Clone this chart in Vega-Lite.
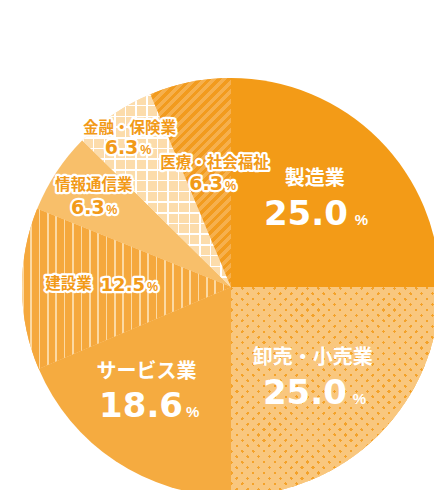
{
"$schema":"https://vega.github.io/schema/vega-lite/v6.json",
"width":406,"height":406,
"padding":{"left":28,"top":84,"right":0,"bottom":0},
"autosize":{"type":"none"},
"background":"#ffffff",
"config":{"view":{"stroke":null}},
"data":{"values":[
{"cat":"製造業","value":25.0,"idx":1},
{"cat":"卸売・小売業","value":25.0,"idx":2},
{"cat":"サービス業","value":18.6,"idx":3},
{"cat":"建設業","value":12.5,"idx":4},
{"cat":"情報通信業","value":6.3,"idx":5},
{"cat":"金融・保険業","value":6.3,"idx":6},
{"cat":"医療・社会福祉","value":6.3,"idx":7}
]},
"encoding":{
"theta":{"field":"value","type":"quantitative","stack":true},
"order":{"field":"idx","type":"quantitative"},
"detail":{"field":"cat","type":"nominal"}
},
"layer":[
{"mark":{"type":"arc","radius":209},
"encoding":{"color":{"field":"cat","type":"nominal","legend":null,
"scale":{"domain":["製造業","卸売・小売業","サービス業","建設業","情報通信業","金融・保険業","医療・社会福祉"],
"range":["#f39b17","#f9c77e","#f5ab40","#f5a83d","#f8bf6a","#fcdcab","#f6b04d"]}}}},
{"mark":{"type":"arc","radius":209,"fill":{"gradient":"linear","x1":0,"y1":0,"x2":1,"y2":1,"stops":[
{"offset":0,"color":"#f4a229"},{"offset":0.008,"color":"#f4a229"},{"offset":0.008,"color":"#f9c77e"},{"offset":0.026,"color":"#f9c77e"},
{"offset":0.026,"color":"#f4a229"},{"offset":0.034,"color":"#f4a229"},{"offset":0.034,"color":"#f9c77e"},{"offset":0.052,"color":"#f9c77e"},
{"offset":0.052,"color":"#f4a229"},{"offset":0.06,"color":"#f4a229"},{"offset":0.06,"color":"#f9c77e"},{"offset":0.078,"color":"#f9c77e"},
{"offset":0.078,"color":"#f4a229"},{"offset":0.086,"color":"#f4a229"},{"offset":0.086,"color":"#f9c77e"},{"offset":0.104,"color":"#f9c77e"},
{"offset":0.104,"color":"#f4a229"},{"offset":0.112,"color":"#f4a229"},{"offset":0.112,"color":"#f9c77e"},{"offset":0.13,"color":"#f9c77e"},
{"offset":0.13,"color":"#f4a229"},{"offset":0.138,"color":"#f4a229"},{"offset":0.138,"color":"#f9c77e"},{"offset":0.156,"color":"#f9c77e"},
{"offset":0.156,"color":"#f4a229"},{"offset":0.164,"color":"#f4a229"},{"offset":0.164,"color":"#f9c77e"},{"offset":0.182,"color":"#f9c77e"},
{"offset":0.182,"color":"#f4a229"},{"offset":0.19,"color":"#f4a229"},{"offset":0.19,"color":"#f9c77e"},{"offset":0.208,"color":"#f9c77e"},
{"offset":0.208,"color":"#f4a229"},{"offset":0.216,"color":"#f4a229"},{"offset":0.216,"color":"#f9c77e"},{"offset":0.234,"color":"#f9c77e"},
{"offset":0.234,"color":"#f4a229"},{"offset":0.242,"color":"#f4a229"},{"offset":0.242,"color":"#f9c77e"},{"offset":0.26,"color":"#f9c77e"},
{"offset":0.26,"color":"#f4a229"},{"offset":0.268,"color":"#f4a229"},{"offset":0.268,"color":"#f9c77e"},{"offset":0.286,"color":"#f9c77e"},
{"offset":0.286,"color":"#f4a229"},{"offset":0.294,"color":"#f4a229"},{"offset":0.294,"color":"#f9c77e"},{"offset":0.312,"color":"#f9c77e"},
{"offset":0.312,"color":"#f4a229"},{"offset":0.32,"color":"#f4a229"},{"offset":0.32,"color":"#f9c77e"},{"offset":0.338,"color":"#f9c77e"},
{"offset":0.338,"color":"#f4a229"},{"offset":0.346,"color":"#f4a229"},{"offset":0.346,"color":"#f9c77e"},{"offset":0.364,"color":"#f9c77e"},
{"offset":0.364,"color":"#f4a229"},{"offset":0.372,"color":"#f4a229"},{"offset":0.372,"color":"#f9c77e"},{"offset":0.39,"color":"#f9c77e"},
{"offset":0.39,"color":"#f4a229"},{"offset":0.398,"color":"#f4a229"},{"offset":0.398,"color":"#f9c77e"},{"offset":0.416,"color":"#f9c77e"},
{"offset":0.416,"color":"#f4a229"},{"offset":0.424,"color":"#f4a229"},{"offset":0.424,"color":"#f9c77e"},{"offset":0.442,"color":"#f9c77e"},
{"offset":0.442,"color":"#f4a229"},{"offset":0.45,"color":"#f4a229"},{"offset":0.45,"color":"#f9c77e"},{"offset":0.468,"color":"#f9c77e"},
{"offset":0.468,"color":"#f4a229"},{"offset":0.476,"color":"#f4a229"},{"offset":0.476,"color":"#f9c77e"},{"offset":0.494,"color":"#f9c77e"},
{"offset":0.494,"color":"#f4a229"},{"offset":0.502,"color":"#f4a229"},{"offset":0.502,"color":"#f9c77e"},{"offset":0.52,"color":"#f9c77e"},
{"offset":0.52,"color":"#f4a229"},{"offset":0.528,"color":"#f4a229"},{"offset":0.528,"color":"#f9c77e"},{"offset":0.546,"color":"#f9c77e"},
{"offset":0.546,"color":"#f4a229"},{"offset":0.554,"color":"#f4a229"},{"offset":0.554,"color":"#f9c77e"},{"offset":0.572,"color":"#f9c77e"},
{"offset":0.572,"color":"#f4a229"},{"offset":0.58,"color":"#f4a229"},{"offset":0.58,"color":"#f9c77e"},{"offset":0.598,"color":"#f9c77e"},
{"offset":0.598,"color":"#f4a229"},{"offset":0.606,"color":"#f4a229"},{"offset":0.606,"color":"#f9c77e"},{"offset":0.624,"color":"#f9c77e"},
{"offset":0.624,"color":"#f4a229"},{"offset":0.632,"color":"#f4a229"},{"offset":0.632,"color":"#f9c77e"},{"offset":0.65,"color":"#f9c77e"},
{"offset":0.65,"color":"#f4a229"},{"offset":0.658,"color":"#f4a229"},{"offset":0.658,"color":"#f9c77e"},{"offset":0.676,"color":"#f9c77e"},
{"offset":0.676,"color":"#f4a229"},{"offset":0.684,"color":"#f4a229"},{"offset":0.684,"color":"#f9c77e"},{"offset":0.702,"color":"#f9c77e"},
{"offset":0.702,"color":"#f4a229"},{"offset":0.71,"color":"#f4a229"},{"offset":0.71,"color":"#f9c77e"},{"offset":0.728,"color":"#f9c77e"},
{"offset":0.728,"color":"#f4a229"},{"offset":0.736,"color":"#f4a229"},{"offset":0.736,"color":"#f9c77e"},{"offset":0.754,"color":"#f9c77e"},
{"offset":0.754,"color":"#f4a229"},{"offset":0.762,"color":"#f4a229"},{"offset":0.762,"color":"#f9c77e"},{"offset":0.78,"color":"#f9c77e"},
{"offset":0.78,"color":"#f4a229"},{"offset":0.788,"color":"#f4a229"},{"offset":0.788,"color":"#f9c77e"},{"offset":0.806,"color":"#f9c77e"},
{"offset":0.806,"color":"#f4a229"},{"offset":0.814,"color":"#f4a229"},{"offset":0.814,"color":"#f9c77e"},{"offset":0.832,"color":"#f9c77e"},
{"offset":0.832,"color":"#f4a229"},{"offset":0.84,"color":"#f4a229"},{"offset":0.84,"color":"#f9c77e"},{"offset":0.858,"color":"#f9c77e"},
{"offset":0.858,"color":"#f4a229"},{"offset":0.866,"color":"#f4a229"},{"offset":0.866,"color":"#f9c77e"},{"offset":0.884,"color":"#f9c77e"},
{"offset":0.884,"color":"#f4a229"},{"offset":0.892,"color":"#f4a229"},{"offset":0.892,"color":"#f9c77e"},{"offset":0.91,"color":"#f9c77e"},
{"offset":0.91,"color":"#f4a229"},{"offset":0.918,"color":"#f4a229"},{"offset":0.918,"color":"#f9c77e"},{"offset":0.936,"color":"#f9c77e"},
{"offset":0.936,"color":"#f4a229"},{"offset":0.944,"color":"#f4a229"},{"offset":0.944,"color":"#f9c77e"},{"offset":0.962,"color":"#f9c77e"},
{"offset":0.962,"color":"#f4a229"},{"offset":0.97,"color":"#f4a229"},{"offset":0.97,"color":"#f9c77e"},{"offset":0.988,"color":"#f9c77e"},
{"offset":0.988,"color":"#f4a229"},{"offset":0.996,"color":"#f4a229"},{"offset":0.996,"color":"#f9c77e"},{"offset":1,"color":"#f9c77e"}
]}},
"encoding":{"opacity":{"condition":{"test":"datum.cat==='卸売・小売業'","value":1},"value":0}}},
{"mark":{"type":"arc","radius":209,"fill":{"gradient":"linear","x1":0,"y1":1,"x2":1,"y2":0,"stops":[
{"offset":0,"color":"rgba(249,199,126,0)"},{"offset":0.008,"color":"rgba(249,199,126,0)"},{"offset":0.008,"color":"#f9c77e"},{"offset":0.026,"color":"#f9c77e"},
{"offset":0.026,"color":"rgba(249,199,126,0)"},{"offset":0.034,"color":"rgba(249,199,126,0)"},{"offset":0.034,"color":"#f9c77e"},{"offset":0.052,"color":"#f9c77e"},
{"offset":0.052,"color":"rgba(249,199,126,0)"},{"offset":0.06,"color":"rgba(249,199,126,0)"},{"offset":0.06,"color":"#f9c77e"},{"offset":0.078,"color":"#f9c77e"},
{"offset":0.078,"color":"rgba(249,199,126,0)"},{"offset":0.086,"color":"rgba(249,199,126,0)"},{"offset":0.086,"color":"#f9c77e"},{"offset":0.104,"color":"#f9c77e"},
{"offset":0.104,"color":"rgba(249,199,126,0)"},{"offset":0.112,"color":"rgba(249,199,126,0)"},{"offset":0.112,"color":"#f9c77e"},{"offset":0.13,"color":"#f9c77e"},
{"offset":0.13,"color":"rgba(249,199,126,0)"},{"offset":0.138,"color":"rgba(249,199,126,0)"},{"offset":0.138,"color":"#f9c77e"},{"offset":0.156,"color":"#f9c77e"},
{"offset":0.156,"color":"rgba(249,199,126,0)"},{"offset":0.164,"color":"rgba(249,199,126,0)"},{"offset":0.164,"color":"#f9c77e"},{"offset":0.182,"color":"#f9c77e"},
{"offset":0.182,"color":"rgba(249,199,126,0)"},{"offset":0.19,"color":"rgba(249,199,126,0)"},{"offset":0.19,"color":"#f9c77e"},{"offset":0.208,"color":"#f9c77e"},
{"offset":0.208,"color":"rgba(249,199,126,0)"},{"offset":0.216,"color":"rgba(249,199,126,0)"},{"offset":0.216,"color":"#f9c77e"},{"offset":0.234,"color":"#f9c77e"},
{"offset":0.234,"color":"rgba(249,199,126,0)"},{"offset":0.242,"color":"rgba(249,199,126,0)"},{"offset":0.242,"color":"#f9c77e"},{"offset":0.26,"color":"#f9c77e"},
{"offset":0.26,"color":"rgba(249,199,126,0)"},{"offset":0.268,"color":"rgba(249,199,126,0)"},{"offset":0.268,"color":"#f9c77e"},{"offset":0.286,"color":"#f9c77e"},
{"offset":0.286,"color":"rgba(249,199,126,0)"},{"offset":0.294,"color":"rgba(249,199,126,0)"},{"offset":0.294,"color":"#f9c77e"},{"offset":0.312,"color":"#f9c77e"},
{"offset":0.312,"color":"rgba(249,199,126,0)"},{"offset":0.32,"color":"rgba(249,199,126,0)"},{"offset":0.32,"color":"#f9c77e"},{"offset":0.338,"color":"#f9c77e"},
{"offset":0.338,"color":"rgba(249,199,126,0)"},{"offset":0.346,"color":"rgba(249,199,126,0)"},{"offset":0.346,"color":"#f9c77e"},{"offset":0.364,"color":"#f9c77e"},
{"offset":0.364,"color":"rgba(249,199,126,0)"},{"offset":0.372,"color":"rgba(249,199,126,0)"},{"offset":0.372,"color":"#f9c77e"},{"offset":0.39,"color":"#f9c77e"},
{"offset":0.39,"color":"rgba(249,199,126,0)"},{"offset":0.398,"color":"rgba(249,199,126,0)"},{"offset":0.398,"color":"#f9c77e"},{"offset":0.416,"color":"#f9c77e"},
{"offset":0.416,"color":"rgba(249,199,126,0)"},{"offset":0.424,"color":"rgba(249,199,126,0)"},{"offset":0.424,"color":"#f9c77e"},{"offset":0.442,"color":"#f9c77e"},
{"offset":0.442,"color":"rgba(249,199,126,0)"},{"offset":0.45,"color":"rgba(249,199,126,0)"},{"offset":0.45,"color":"#f9c77e"},{"offset":0.468,"color":"#f9c77e"},
{"offset":0.468,"color":"rgba(249,199,126,0)"},{"offset":0.476,"color":"rgba(249,199,126,0)"},{"offset":0.476,"color":"#f9c77e"},{"offset":0.494,"color":"#f9c77e"},
{"offset":0.494,"color":"rgba(249,199,126,0)"},{"offset":0.502,"color":"rgba(249,199,126,0)"},{"offset":0.502,"color":"#f9c77e"},{"offset":0.52,"color":"#f9c77e"},
{"offset":0.52,"color":"rgba(249,199,126,0)"},{"offset":0.528,"color":"rgba(249,199,126,0)"},{"offset":0.528,"color":"#f9c77e"},{"offset":0.546,"color":"#f9c77e"},
{"offset":0.546,"color":"rgba(249,199,126,0)"},{"offset":0.554,"color":"rgba(249,199,126,0)"},{"offset":0.554,"color":"#f9c77e"},{"offset":0.572,"color":"#f9c77e"},
{"offset":0.572,"color":"rgba(249,199,126,0)"},{"offset":0.58,"color":"rgba(249,199,126,0)"},{"offset":0.58,"color":"#f9c77e"},{"offset":0.598,"color":"#f9c77e"},
{"offset":0.598,"color":"rgba(249,199,126,0)"},{"offset":0.606,"color":"rgba(249,199,126,0)"},{"offset":0.606,"color":"#f9c77e"},{"offset":0.624,"color":"#f9c77e"},
{"offset":0.624,"color":"rgba(249,199,126,0)"},{"offset":0.632,"color":"rgba(249,199,126,0)"},{"offset":0.632,"color":"#f9c77e"},{"offset":0.65,"color":"#f9c77e"},
{"offset":0.65,"color":"rgba(249,199,126,0)"},{"offset":0.658,"color":"rgba(249,199,126,0)"},{"offset":0.658,"color":"#f9c77e"},{"offset":0.676,"color":"#f9c77e"},
{"offset":0.676,"color":"rgba(249,199,126,0)"},{"offset":0.684,"color":"rgba(249,199,126,0)"},{"offset":0.684,"color":"#f9c77e"},{"offset":0.702,"color":"#f9c77e"},
{"offset":0.702,"color":"rgba(249,199,126,0)"},{"offset":0.71,"color":"rgba(249,199,126,0)"},{"offset":0.71,"color":"#f9c77e"},{"offset":0.728,"color":"#f9c77e"},
{"offset":0.728,"color":"rgba(249,199,126,0)"},{"offset":0.736,"color":"rgba(249,199,126,0)"},{"offset":0.736,"color":"#f9c77e"},{"offset":0.754,"color":"#f9c77e"},
{"offset":0.754,"color":"rgba(249,199,126,0)"},{"offset":0.762,"color":"rgba(249,199,126,0)"},{"offset":0.762,"color":"#f9c77e"},{"offset":0.78,"color":"#f9c77e"},
{"offset":0.78,"color":"rgba(249,199,126,0)"},{"offset":0.788,"color":"rgba(249,199,126,0)"},{"offset":0.788,"color":"#f9c77e"},{"offset":0.806,"color":"#f9c77e"},
{"offset":0.806,"color":"rgba(249,199,126,0)"},{"offset":0.814,"color":"rgba(249,199,126,0)"},{"offset":0.814,"color":"#f9c77e"},{"offset":0.832,"color":"#f9c77e"},
{"offset":0.832,"color":"rgba(249,199,126,0)"},{"offset":0.84,"color":"rgba(249,199,126,0)"},{"offset":0.84,"color":"#f9c77e"},{"offset":0.858,"color":"#f9c77e"},
{"offset":0.858,"color":"rgba(249,199,126,0)"},{"offset":0.866,"color":"rgba(249,199,126,0)"},{"offset":0.866,"color":"#f9c77e"},{"offset":0.884,"color":"#f9c77e"},
{"offset":0.884,"color":"rgba(249,199,126,0)"},{"offset":0.892,"color":"rgba(249,199,126,0)"},{"offset":0.892,"color":"#f9c77e"},{"offset":0.91,"color":"#f9c77e"},
{"offset":0.91,"color":"rgba(249,199,126,0)"},{"offset":0.918,"color":"rgba(249,199,126,0)"},{"offset":0.918,"color":"#f9c77e"},{"offset":0.936,"color":"#f9c77e"},
{"offset":0.936,"color":"rgba(249,199,126,0)"},{"offset":0.944,"color":"rgba(249,199,126,0)"},{"offset":0.944,"color":"#f9c77e"},{"offset":0.962,"color":"#f9c77e"},
{"offset":0.962,"color":"rgba(249,199,126,0)"},{"offset":0.97,"color":"rgba(249,199,126,0)"},{"offset":0.97,"color":"#f9c77e"},{"offset":0.988,"color":"#f9c77e"},
{"offset":0.988,"color":"rgba(249,199,126,0)"},{"offset":0.996,"color":"rgba(249,199,126,0)"},{"offset":0.996,"color":"#f9c77e"},{"offset":1,"color":"#f9c77e"}
]}},
"encoding":{"opacity":{"condition":{"test":"datum.cat==='卸売・小売業'","value":1},"value":0}}},
{"mark":{"type":"arc","radius":209,"fill":{"gradient":"linear","x1":0,"y1":0,"x2":1,"y2":0,"stops":[
{"offset":0,"color":"#fcd9a2"},{"offset":0.008,"color":"#fcd9a2"},{"offset":0.008,"color":"#f5a83d"},{"offset":0.04,"color":"#f5a83d"},
{"offset":0.04,"color":"#fcd9a2"},{"offset":0.048,"color":"#fcd9a2"},{"offset":0.048,"color":"#f5a83d"},{"offset":0.08,"color":"#f5a83d"},
{"offset":0.08,"color":"#fcd9a2"},{"offset":0.088,"color":"#fcd9a2"},{"offset":0.088,"color":"#f5a83d"},{"offset":0.12,"color":"#f5a83d"},
{"offset":0.12,"color":"#fcd9a2"},{"offset":0.128,"color":"#fcd9a2"},{"offset":0.128,"color":"#f5a83d"},{"offset":0.16,"color":"#f5a83d"},
{"offset":0.16,"color":"#fcd9a2"},{"offset":0.168,"color":"#fcd9a2"},{"offset":0.168,"color":"#f5a83d"},{"offset":0.2,"color":"#f5a83d"},
{"offset":0.2,"color":"#fcd9a2"},{"offset":0.208,"color":"#fcd9a2"},{"offset":0.208,"color":"#f5a83d"},{"offset":0.24,"color":"#f5a83d"},
{"offset":0.24,"color":"#fcd9a2"},{"offset":0.248,"color":"#fcd9a2"},{"offset":0.248,"color":"#f5a83d"},{"offset":0.28,"color":"#f5a83d"},
{"offset":0.28,"color":"#fcd9a2"},{"offset":0.288,"color":"#fcd9a2"},{"offset":0.288,"color":"#f5a83d"},{"offset":0.32,"color":"#f5a83d"},
{"offset":0.32,"color":"#fcd9a2"},{"offset":0.328,"color":"#fcd9a2"},{"offset":0.328,"color":"#f5a83d"},{"offset":0.36,"color":"#f5a83d"},
{"offset":0.36,"color":"#fcd9a2"},{"offset":0.368,"color":"#fcd9a2"},{"offset":0.368,"color":"#f5a83d"},{"offset":0.4,"color":"#f5a83d"},
{"offset":0.4,"color":"#fcd9a2"},{"offset":0.408,"color":"#fcd9a2"},{"offset":0.408,"color":"#f5a83d"},{"offset":0.44,"color":"#f5a83d"},
{"offset":0.44,"color":"#fcd9a2"},{"offset":0.448,"color":"#fcd9a2"},{"offset":0.448,"color":"#f5a83d"},{"offset":0.48,"color":"#f5a83d"},
{"offset":0.48,"color":"#fcd9a2"},{"offset":0.488,"color":"#fcd9a2"},{"offset":0.488,"color":"#f5a83d"},{"offset":0.52,"color":"#f5a83d"},
{"offset":0.52,"color":"#fcd9a2"},{"offset":0.528,"color":"#fcd9a2"},{"offset":0.528,"color":"#f5a83d"},{"offset":0.56,"color":"#f5a83d"},
{"offset":0.56,"color":"#fcd9a2"},{"offset":0.568,"color":"#fcd9a2"},{"offset":0.568,"color":"#f5a83d"},{"offset":0.6,"color":"#f5a83d"},
{"offset":0.6,"color":"#fcd9a2"},{"offset":0.608,"color":"#fcd9a2"},{"offset":0.608,"color":"#f5a83d"},{"offset":0.64,"color":"#f5a83d"},
{"offset":0.64,"color":"#fcd9a2"},{"offset":0.648,"color":"#fcd9a2"},{"offset":0.648,"color":"#f5a83d"},{"offset":0.68,"color":"#f5a83d"},
{"offset":0.68,"color":"#fcd9a2"},{"offset":0.688,"color":"#fcd9a2"},{"offset":0.688,"color":"#f5a83d"},{"offset":0.72,"color":"#f5a83d"},
{"offset":0.72,"color":"#fcd9a2"},{"offset":0.728,"color":"#fcd9a2"},{"offset":0.728,"color":"#f5a83d"},{"offset":0.76,"color":"#f5a83d"},
{"offset":0.76,"color":"#fcd9a2"},{"offset":0.768,"color":"#fcd9a2"},{"offset":0.768,"color":"#f5a83d"},{"offset":0.8,"color":"#f5a83d"},
{"offset":0.8,"color":"#fcd9a2"},{"offset":0.808,"color":"#fcd9a2"},{"offset":0.808,"color":"#f5a83d"},{"offset":0.84,"color":"#f5a83d"},
{"offset":0.84,"color":"#fcd9a2"},{"offset":0.848,"color":"#fcd9a2"},{"offset":0.848,"color":"#f5a83d"},{"offset":0.88,"color":"#f5a83d"},
{"offset":0.88,"color":"#fcd9a2"},{"offset":0.888,"color":"#fcd9a2"},{"offset":0.888,"color":"#f5a83d"},{"offset":0.92,"color":"#f5a83d"},
{"offset":0.92,"color":"#fcd9a2"},{"offset":0.928,"color":"#fcd9a2"},{"offset":0.928,"color":"#f5a83d"},{"offset":0.96,"color":"#f5a83d"},
{"offset":0.96,"color":"#fcd9a2"},{"offset":0.968,"color":"#fcd9a2"},{"offset":0.968,"color":"#f5a83d"},{"offset":1,"color":"#f5a83d"}
]}},
"encoding":{"opacity":{"condition":{"test":"datum.cat==='建設業'","value":1},"value":0}}},
{"mark":{"type":"arc","radius":209,"fill":{"gradient":"linear","x1":0,"y1":0,"x2":1,"y2":0,"stops":[
{"offset":0,"color":"#ffffff"},{"offset":0.01,"color":"#ffffff"},{"offset":0.01,"color":"#fcdcab"},{"offset":0.0714,"color":"#fcdcab"},
{"offset":0.0714,"color":"#ffffff"},{"offset":0.0814,"color":"#ffffff"},{"offset":0.0814,"color":"#fcdcab"},{"offset":0.1429,"color":"#fcdcab"},
{"offset":0.1429,"color":"#ffffff"},{"offset":0.1529,"color":"#ffffff"},{"offset":0.1529,"color":"#fcdcab"},{"offset":0.2143,"color":"#fcdcab"},
{"offset":0.2143,"color":"#ffffff"},{"offset":0.2243,"color":"#ffffff"},{"offset":0.2243,"color":"#fcdcab"},{"offset":0.2857,"color":"#fcdcab"},
{"offset":0.2857,"color":"#ffffff"},{"offset":0.2957,"color":"#ffffff"},{"offset":0.2957,"color":"#fcdcab"},{"offset":0.3571,"color":"#fcdcab"},
{"offset":0.3571,"color":"#ffffff"},{"offset":0.3671,"color":"#ffffff"},{"offset":0.3671,"color":"#fcdcab"},{"offset":0.4286,"color":"#fcdcab"},
{"offset":0.4286,"color":"#ffffff"},{"offset":0.4386,"color":"#ffffff"},{"offset":0.4386,"color":"#fcdcab"},{"offset":0.5,"color":"#fcdcab"},
{"offset":0.5,"color":"#ffffff"},{"offset":0.51,"color":"#ffffff"},{"offset":0.51,"color":"#fcdcab"},{"offset":0.5714,"color":"#fcdcab"},
{"offset":0.5714,"color":"#ffffff"},{"offset":0.5814,"color":"#ffffff"},{"offset":0.5814,"color":"#fcdcab"},{"offset":0.6429,"color":"#fcdcab"},
{"offset":0.6429,"color":"#ffffff"},{"offset":0.6529,"color":"#ffffff"},{"offset":0.6529,"color":"#fcdcab"},{"offset":0.7143,"color":"#fcdcab"},
{"offset":0.7143,"color":"#ffffff"},{"offset":0.7243,"color":"#ffffff"},{"offset":0.7243,"color":"#fcdcab"},{"offset":0.7857,"color":"#fcdcab"},
{"offset":0.7857,"color":"#ffffff"},{"offset":0.7957,"color":"#ffffff"},{"offset":0.7957,"color":"#fcdcab"},{"offset":0.8571,"color":"#fcdcab"},
{"offset":0.8571,"color":"#ffffff"},{"offset":0.8671,"color":"#ffffff"},{"offset":0.8671,"color":"#fcdcab"},{"offset":0.9286,"color":"#fcdcab"},
{"offset":0.9286,"color":"#ffffff"},{"offset":0.9386,"color":"#ffffff"},{"offset":0.9386,"color":"#fcdcab"},{"offset":1,"color":"#fcdcab"}
]}},
"encoding":{"opacity":{"condition":{"test":"datum.cat==='金融・保険業'","value":1},"value":0}}},
{"mark":{"type":"arc","radius":209,"fill":{"gradient":"linear","x1":0,"y1":0,"x2":0,"y2":1,"stops":[
{"offset":0,"color":"#ffffff"},{"offset":0.008,"color":"#ffffff"},{"offset":0.008,"color":"rgba(255,255,255,0)"},{"offset":0.0556,"color":"rgba(255,255,255,0)"},
{"offset":0.0556,"color":"#ffffff"},{"offset":0.0636,"color":"#ffffff"},{"offset":0.0636,"color":"rgba(255,255,255,0)"},{"offset":0.1111,"color":"rgba(255,255,255,0)"},
{"offset":0.1111,"color":"#ffffff"},{"offset":0.1191,"color":"#ffffff"},{"offset":0.1191,"color":"rgba(255,255,255,0)"},{"offset":0.1667,"color":"rgba(255,255,255,0)"},
{"offset":0.1667,"color":"#ffffff"},{"offset":0.1747,"color":"#ffffff"},{"offset":0.1747,"color":"rgba(255,255,255,0)"},{"offset":0.2222,"color":"rgba(255,255,255,0)"},
{"offset":0.2222,"color":"#ffffff"},{"offset":0.2302,"color":"#ffffff"},{"offset":0.2302,"color":"rgba(255,255,255,0)"},{"offset":0.2778,"color":"rgba(255,255,255,0)"},
{"offset":0.2778,"color":"#ffffff"},{"offset":0.2858,"color":"#ffffff"},{"offset":0.2858,"color":"rgba(255,255,255,0)"},{"offset":0.3333,"color":"rgba(255,255,255,0)"},
{"offset":0.3333,"color":"#ffffff"},{"offset":0.3413,"color":"#ffffff"},{"offset":0.3413,"color":"rgba(255,255,255,0)"},{"offset":0.3889,"color":"rgba(255,255,255,0)"},
{"offset":0.3889,"color":"#ffffff"},{"offset":0.3969,"color":"#ffffff"},{"offset":0.3969,"color":"rgba(255,255,255,0)"},{"offset":0.4444,"color":"rgba(255,255,255,0)"},
{"offset":0.4444,"color":"#ffffff"},{"offset":0.4524,"color":"#ffffff"},{"offset":0.4524,"color":"rgba(255,255,255,0)"},{"offset":0.5,"color":"rgba(255,255,255,0)"},
{"offset":0.5,"color":"#ffffff"},{"offset":0.508,"color":"#ffffff"},{"offset":0.508,"color":"rgba(255,255,255,0)"},{"offset":0.5556,"color":"rgba(255,255,255,0)"},
{"offset":0.5556,"color":"#ffffff"},{"offset":0.5636,"color":"#ffffff"},{"offset":0.5636,"color":"rgba(255,255,255,0)"},{"offset":0.6111,"color":"rgba(255,255,255,0)"},
{"offset":0.6111,"color":"#ffffff"},{"offset":0.6191,"color":"#ffffff"},{"offset":0.6191,"color":"rgba(255,255,255,0)"},{"offset":0.6667,"color":"rgba(255,255,255,0)"},
{"offset":0.6667,"color":"#ffffff"},{"offset":0.6747,"color":"#ffffff"},{"offset":0.6747,"color":"rgba(255,255,255,0)"},{"offset":0.7222,"color":"rgba(255,255,255,0)"},
{"offset":0.7222,"color":"#ffffff"},{"offset":0.7302,"color":"#ffffff"},{"offset":0.7302,"color":"rgba(255,255,255,0)"},{"offset":0.7778,"color":"rgba(255,255,255,0)"},
{"offset":0.7778,"color":"#ffffff"},{"offset":0.7858,"color":"#ffffff"},{"offset":0.7858,"color":"rgba(255,255,255,0)"},{"offset":0.8333,"color":"rgba(255,255,255,0)"},
{"offset":0.8333,"color":"#ffffff"},{"offset":0.8413,"color":"#ffffff"},{"offset":0.8413,"color":"rgba(255,255,255,0)"},{"offset":0.8889,"color":"rgba(255,255,255,0)"},
{"offset":0.8889,"color":"#ffffff"},{"offset":0.8969,"color":"#ffffff"},{"offset":0.8969,"color":"rgba(255,255,255,0)"},{"offset":0.9444,"color":"rgba(255,255,255,0)"},
{"offset":0.9444,"color":"#ffffff"},{"offset":0.9524,"color":"#ffffff"},{"offset":0.9524,"color":"rgba(255,255,255,0)"},{"offset":1,"color":"rgba(255,255,255,0)"}
]}},
"encoding":{"opacity":{"condition":{"test":"datum.cat==='金融・保険業'","value":1},"value":0}}},
{"mark":{"type":"arc","radius":209,"fill":{"gradient":"linear","x1":0,"y1":0,"x2":0.4651,"y2":1.2062,"stops":[
{"offset":0,"color":"#f29b1e"},{"offset":0.016,"color":"#f29b1e"},{"offset":0.016,"color":"#f6b04d"},{"offset":0.0333,"color":"#f6b04d"},
{"offset":0.0333,"color":"#f29b1e"},{"offset":0.0493,"color":"#f29b1e"},{"offset":0.0493,"color":"#f6b04d"},{"offset":0.0667,"color":"#f6b04d"},
{"offset":0.0667,"color":"#f29b1e"},{"offset":0.0827,"color":"#f29b1e"},{"offset":0.0827,"color":"#f6b04d"},{"offset":0.1,"color":"#f6b04d"},
{"offset":0.1,"color":"#f29b1e"},{"offset":0.116,"color":"#f29b1e"},{"offset":0.116,"color":"#f6b04d"},{"offset":0.1333,"color":"#f6b04d"},
{"offset":0.1333,"color":"#f29b1e"},{"offset":0.1493,"color":"#f29b1e"},{"offset":0.1493,"color":"#f6b04d"},{"offset":0.1667,"color":"#f6b04d"},
{"offset":0.1667,"color":"#f29b1e"},{"offset":0.1827,"color":"#f29b1e"},{"offset":0.1827,"color":"#f6b04d"},{"offset":0.2,"color":"#f6b04d"},
{"offset":0.2,"color":"#f29b1e"},{"offset":0.216,"color":"#f29b1e"},{"offset":0.216,"color":"#f6b04d"},{"offset":0.2333,"color":"#f6b04d"},
{"offset":0.2333,"color":"#f29b1e"},{"offset":0.2493,"color":"#f29b1e"},{"offset":0.2493,"color":"#f6b04d"},{"offset":0.2667,"color":"#f6b04d"},
{"offset":0.2667,"color":"#f29b1e"},{"offset":0.2827,"color":"#f29b1e"},{"offset":0.2827,"color":"#f6b04d"},{"offset":0.3,"color":"#f6b04d"},
{"offset":0.3,"color":"#f29b1e"},{"offset":0.316,"color":"#f29b1e"},{"offset":0.316,"color":"#f6b04d"},{"offset":0.3333,"color":"#f6b04d"},
{"offset":0.3333,"color":"#f29b1e"},{"offset":0.3493,"color":"#f29b1e"},{"offset":0.3493,"color":"#f6b04d"},{"offset":0.3667,"color":"#f6b04d"},
{"offset":0.3667,"color":"#f29b1e"},{"offset":0.3827,"color":"#f29b1e"},{"offset":0.3827,"color":"#f6b04d"},{"offset":0.4,"color":"#f6b04d"},
{"offset":0.4,"color":"#f29b1e"},{"offset":0.416,"color":"#f29b1e"},{"offset":0.416,"color":"#f6b04d"},{"offset":0.4333,"color":"#f6b04d"},
{"offset":0.4333,"color":"#f29b1e"},{"offset":0.4493,"color":"#f29b1e"},{"offset":0.4493,"color":"#f6b04d"},{"offset":0.4667,"color":"#f6b04d"},
{"offset":0.4667,"color":"#f29b1e"},{"offset":0.4827,"color":"#f29b1e"},{"offset":0.4827,"color":"#f6b04d"},{"offset":0.5,"color":"#f6b04d"},
{"offset":0.5,"color":"#f29b1e"},{"offset":0.516,"color":"#f29b1e"},{"offset":0.516,"color":"#f6b04d"},{"offset":0.5333,"color":"#f6b04d"},
{"offset":0.5333,"color":"#f29b1e"},{"offset":0.5493,"color":"#f29b1e"},{"offset":0.5493,"color":"#f6b04d"},{"offset":0.5667,"color":"#f6b04d"},
{"offset":0.5667,"color":"#f29b1e"},{"offset":0.5827,"color":"#f29b1e"},{"offset":0.5827,"color":"#f6b04d"},{"offset":0.6,"color":"#f6b04d"},
{"offset":0.6,"color":"#f29b1e"},{"offset":0.616,"color":"#f29b1e"},{"offset":0.616,"color":"#f6b04d"},{"offset":0.6333,"color":"#f6b04d"},
{"offset":0.6333,"color":"#f29b1e"},{"offset":0.6493,"color":"#f29b1e"},{"offset":0.6493,"color":"#f6b04d"},{"offset":0.6667,"color":"#f6b04d"},
{"offset":0.6667,"color":"#f29b1e"},{"offset":0.6827,"color":"#f29b1e"},{"offset":0.6827,"color":"#f6b04d"},{"offset":0.7,"color":"#f6b04d"},
{"offset":0.7,"color":"#f29b1e"},{"offset":0.716,"color":"#f29b1e"},{"offset":0.716,"color":"#f6b04d"},{"offset":0.7333,"color":"#f6b04d"},
{"offset":0.7333,"color":"#f29b1e"},{"offset":0.7493,"color":"#f29b1e"},{"offset":0.7493,"color":"#f6b04d"},{"offset":0.7667,"color":"#f6b04d"},
{"offset":0.7667,"color":"#f29b1e"},{"offset":0.7827,"color":"#f29b1e"},{"offset":0.7827,"color":"#f6b04d"},{"offset":0.8,"color":"#f6b04d"},
{"offset":0.8,"color":"#f29b1e"},{"offset":0.816,"color":"#f29b1e"},{"offset":0.816,"color":"#f6b04d"},{"offset":0.8333,"color":"#f6b04d"},
{"offset":0.8333,"color":"#f29b1e"},{"offset":0.8493,"color":"#f29b1e"},{"offset":0.8493,"color":"#f6b04d"},{"offset":0.8667,"color":"#f6b04d"},
{"offset":0.8667,"color":"#f29b1e"},{"offset":0.8827,"color":"#f29b1e"},{"offset":0.8827,"color":"#f6b04d"},{"offset":0.9,"color":"#f6b04d"},
{"offset":0.9,"color":"#f29b1e"},{"offset":0.916,"color":"#f29b1e"},{"offset":0.916,"color":"#f6b04d"},{"offset":0.9333,"color":"#f6b04d"},
{"offset":0.9333,"color":"#f29b1e"},{"offset":0.9493,"color":"#f29b1e"},{"offset":0.9493,"color":"#f6b04d"},{"offset":0.9667,"color":"#f6b04d"},
{"offset":0.9667,"color":"#f29b1e"},{"offset":0.9827,"color":"#f29b1e"},{"offset":0.9827,"color":"#f6b04d"},{"offset":1,"color":"#f6b04d"}
]}},
"encoding":{"opacity":{"condition":{"test":"datum.cat==='医療・社会福祉'","value":1},"value":0}}},

{"mark":{"type":"text","radius":120,"dx":-1,"dy":-23,"align":"center","baseline":"middle","font":"Noto Sans CJK JP","fontSize":20,"fontWeight":"bold","color":"#ffffff"},
"encoding":{"text":{"condition":{"test":"datum.cat==='製造業'","field":"cat","type":"nominal"},"value":""}}},
{"mark":{"type":"text","radius":120,"dx":32,"dy":23,"align":"right","baseline":"alphabetic","font":"DejaVu Sans","fontSize":34,"fontWeight":"bold","color":"#ffffff"},
"encoding":{"text":{"condition":{"test":"datum.cat==='製造業'","field":"value","type":"quantitative","format":".1f"},"value":""}}},
{"mark":{"type":"text","radius":120,"dx":39,"dy":23,"align":"left","baseline":"alphabetic","font":"Liberation Sans","fontSize":15,"fontWeight":"bold","color":"#ffffff"},
"encoding":{"text":{"condition":{"test":"datum.cat==='製造業'","value":"%"},"value":""}}},

{"mark":{"type":"text","radius":120,"dx":-3,"dy":-13.5,"align":"center","baseline":"middle","font":"Noto Sans CJK JP","fontSize":20,"fontWeight":"bold","color":"#ffffff"},
"encoding":{"text":{"condition":{"test":"datum.cat==='卸売・小売業'","field":"cat","type":"nominal"},"value":""}}},
{"mark":{"type":"text","radius":120,"dx":31,"dy":32,"align":"right","baseline":"alphabetic","font":"DejaVu Sans","fontSize":34,"fontWeight":"bold","color":"#ffffff"},
"encoding":{"text":{"condition":{"test":"datum.cat==='卸売・小売業'","field":"value","type":"quantitative","format":".1f"},"value":""}}},
{"mark":{"type":"text","radius":120,"dx":37,"dy":32,"align":"left","baseline":"alphabetic","font":"Liberation Sans","fontSize":15,"fontWeight":"bold","color":"#ffffff"},
"encoding":{"text":{"condition":{"test":"datum.cat==='卸売・小売業'","value":"%"},"value":""}}},

{"mark":{"type":"text","radius":136,"dx":-9.5,"dy":-28.4,"align":"center","baseline":"middle","font":"Noto Sans CJK JP","fontSize":20,"fontWeight":"bold","color":"#ffffff"},
"encoding":{"text":{"condition":{"test":"datum.cat==='サービス業'","field":"cat","type":"nominal"},"value":""}}},
{"mark":{"type":"text","radius":136,"dx":27,"dy":16.6,"align":"right","baseline":"alphabetic","font":"DejaVu Sans","fontSize":34,"fontWeight":"bold","color":"#ffffff"},
"encoding":{"text":{"condition":{"test":"datum.cat==='サービス業'","field":"value","type":"quantitative","format":".1f"},"value":""}}},
{"mark":{"type":"text","radius":136,"dx":30,"dy":16.6,"align":"left","baseline":"alphabetic","font":"Liberation Sans","fontSize":15,"fontWeight":"bold","color":"#ffffff"},
"encoding":{"text":{"condition":{"test":"datum.cat==='サービス業'","value":"%"},"value":""}}},

{"mark":{"type":"text","radius":130,"dx":-32.5,"dy":-4.2,"align":"center","baseline":"middle","font":"Noto Sans CJK JP","fontSize":15.5,"fontWeight":"bold","color":"#ffffff","stroke":"#ffffff","strokeWidth":4.5,"strokeJoin":"round"},
"encoding":{"text":{"condition":{"test":"datum.cat==='建設業'","field":"cat","type":"nominal"},"value":""}}},
{"mark":{"type":"text","radius":130,"dx":44,"dy":2.8,"align":"right","baseline":"alphabetic","font":"DejaVu Sans","fontSize":18,"fontWeight":"bold","color":"#ffffff","stroke":"#ffffff","strokeWidth":4.5,"strokeJoin":"round"},
"encoding":{"text":{"condition":{"test":"datum.cat==='建設業'","field":"value","type":"quantitative","format":".1f"},"value":""}}},
{"mark":{"type":"text","radius":130,"dx":46,"dy":2.8,"align":"left","baseline":"alphabetic","font":"Liberation Sans","fontSize":12.5,"fontWeight":"bold","color":"#ffffff","stroke":"#ffffff","strokeWidth":4.5,"strokeJoin":"round"},
"encoding":{"text":{"condition":{"test":"datum.cat==='建設業'","value":"%"},"value":""}}},

{"mark":{"type":"text","radius":163,"dx":-1,"dy":-13,"align":"center","baseline":"middle","font":"Noto Sans CJK JP","fontSize":15.5,"fontWeight":"bold","color":"#ffffff","stroke":"#ffffff","strokeWidth":4.5,"strokeJoin":"round"},
"encoding":{"text":{"condition":{"test":"datum.cat==='情報通信業'","field":"cat","type":"nominal"},"value":""}}},
{"mark":{"type":"text","radius":163,"dx":10,"dy":16.5,"align":"right","baseline":"alphabetic","font":"DejaVu Sans","fontSize":19,"fontWeight":"bold","color":"#ffffff","stroke":"#ffffff","strokeWidth":4.5,"strokeJoin":"round"},
"encoding":{"text":{"condition":{"test":"datum.cat==='情報通信業'","field":"value","type":"quantitative","format":".1f"},"value":""}}},
{"mark":{"type":"text","radius":163,"dx":11.5,"dy":16.5,"align":"left","baseline":"alphabetic","font":"Liberation Sans","fontSize":12.5,"fontWeight":"bold","color":"#ffffff","stroke":"#ffffff","strokeWidth":4.5,"strokeJoin":"round"},
"encoding":{"text":{"condition":{"test":"datum.cat==='情報通信業'","value":"%"},"value":""}}},

{"mark":{"type":"text","radius":179,"dx":-1.3,"dy":-10.6,"align":"center","baseline":"middle","font":"Noto Sans CJK JP","fontSize":15.5,"fontWeight":"bold","color":"#ffffff","stroke":"#ffffff","strokeWidth":4.5,"strokeJoin":"round"},
"encoding":{"text":{"condition":{"test":"datum.cat==='金融・保険業'","field":"cat","type":"nominal"},"value":""}}},
{"mark":{"type":"text","radius":179,"dx":7.5,"dy":15.4,"align":"right","baseline":"alphabetic","font":"DejaVu Sans","fontSize":19,"fontWeight":"bold","color":"#ffffff","stroke":"#ffffff","strokeWidth":4.5,"strokeJoin":"round"},
"encoding":{"text":{"condition":{"test":"datum.cat==='金融・保険業'","field":"value","type":"quantitative","format":".1f"},"value":""}}},
{"mark":{"type":"text","radius":179,"dx":9.5,"dy":15.4,"align":"left","baseline":"alphabetic","font":"Liberation Sans","fontSize":12.5,"fontWeight":"bold","color":"#ffffff","stroke":"#ffffff","strokeWidth":4.5,"strokeJoin":"round"},
"encoding":{"text":{"condition":{"test":"datum.cat==='金融・保険業'","value":"%"},"value":""}}},

{"mark":{"type":"text","radius":112,"dx":5.5,"dy":-14.2,"align":"center","baseline":"middle","font":"Noto Sans CJK JP","fontSize":15.5,"fontWeight":"bold","color":"#ffffff","stroke":"#ffffff","strokeWidth":4.5,"strokeJoin":"round"},
"encoding":{"text":{"condition":{"test":"datum.cat==='医療・社会福祉'","field":"cat","type":"nominal"},"value":""}}},
{"mark":{"type":"text","radius":112,"dx":14,"dy":12.8,"align":"right","baseline":"alphabetic","font":"DejaVu Sans","fontSize":19,"fontWeight":"bold","color":"#ffffff","stroke":"#ffffff","strokeWidth":4.5,"strokeJoin":"round"},
"encoding":{"text":{"condition":{"test":"datum.cat==='医療・社会福祉'","field":"value","type":"quantitative","format":".1f"},"value":""}}},
{"mark":{"type":"text","radius":112,"dx":16,"dy":12.8,"align":"left","baseline":"alphabetic","font":"Liberation Sans","fontSize":12.5,"fontWeight":"bold","color":"#ffffff","stroke":"#ffffff","strokeWidth":4.5,"strokeJoin":"round"},
"encoding":{"text":{"condition":{"test":"datum.cat==='医療・社会福祉'","value":"%"},"value":""}}},

{"mark":{"type":"text","radius":130,"dx":-32.5,"dy":-4.2,"align":"center","baseline":"middle","font":"Noto Sans CJK JP","fontSize":15.5,"fontWeight":"bold","color":"#f29a18"},
"encoding":{"text":{"condition":{"test":"datum.cat==='建設業'","field":"cat","type":"nominal"},"value":""}}},
{"mark":{"type":"text","radius":130,"dx":44,"dy":2.8,"align":"right","baseline":"alphabetic","font":"DejaVu Sans","fontSize":18,"fontWeight":"bold","color":"#f29a18"},
"encoding":{"text":{"condition":{"test":"datum.cat==='建設業'","field":"value","type":"quantitative","format":".1f"},"value":""}}},
{"mark":{"type":"text","radius":130,"dx":46,"dy":2.8,"align":"left","baseline":"alphabetic","font":"Liberation Sans","fontSize":12.5,"fontWeight":"bold","color":"#f29a18"},
"encoding":{"text":{"condition":{"test":"datum.cat==='建設業'","value":"%"},"value":""}}},

{"mark":{"type":"text","radius":163,"dx":-1,"dy":-13,"align":"center","baseline":"middle","font":"Noto Sans CJK JP","fontSize":15.5,"fontWeight":"bold","color":"#f29a18"},
"encoding":{"text":{"condition":{"test":"datum.cat==='情報通信業'","field":"cat","type":"nominal"},"value":""}}},
{"mark":{"type":"text","radius":163,"dx":10,"dy":16.5,"align":"right","baseline":"alphabetic","font":"DejaVu Sans","fontSize":19,"fontWeight":"bold","color":"#f29a18"},
"encoding":{"text":{"condition":{"test":"datum.cat==='情報通信業'","field":"value","type":"quantitative","format":".1f"},"value":""}}},
{"mark":{"type":"text","radius":163,"dx":11.5,"dy":16.5,"align":"left","baseline":"alphabetic","font":"Liberation Sans","fontSize":12.5,"fontWeight":"bold","color":"#f29a18"},
"encoding":{"text":{"condition":{"test":"datum.cat==='情報通信業'","value":"%"},"value":""}}},

{"mark":{"type":"text","radius":179,"dx":-1.3,"dy":-10.6,"align":"center","baseline":"middle","font":"Noto Sans CJK JP","fontSize":15.5,"fontWeight":"bold","color":"#f29a18"},
"encoding":{"text":{"condition":{"test":"datum.cat==='金融・保険業'","field":"cat","type":"nominal"},"value":""}}},
{"mark":{"type":"text","radius":179,"dx":7.5,"dy":15.4,"align":"right","baseline":"alphabetic","font":"DejaVu Sans","fontSize":19,"fontWeight":"bold","color":"#f29a18"},
"encoding":{"text":{"condition":{"test":"datum.cat==='金融・保険業'","field":"value","type":"quantitative","format":".1f"},"value":""}}},
{"mark":{"type":"text","radius":179,"dx":9.5,"dy":15.4,"align":"left","baseline":"alphabetic","font":"Liberation Sans","fontSize":12.5,"fontWeight":"bold","color":"#f29a18"},
"encoding":{"text":{"condition":{"test":"datum.cat==='金融・保険業'","value":"%"},"value":""}}},

{"mark":{"type":"text","radius":112,"dx":5.5,"dy":-14.2,"align":"center","baseline":"middle","font":"Noto Sans CJK JP","fontSize":15.5,"fontWeight":"bold","color":"#f29a18"},
"encoding":{"text":{"condition":{"test":"datum.cat==='医療・社会福祉'","field":"cat","type":"nominal"},"value":""}}},
{"mark":{"type":"text","radius":112,"dx":14,"dy":12.8,"align":"right","baseline":"alphabetic","font":"DejaVu Sans","fontSize":19,"fontWeight":"bold","color":"#f29a18"},
"encoding":{"text":{"condition":{"test":"datum.cat==='医療・社会福祉'","field":"value","type":"quantitative","format":".1f"},"value":""}}},
{"mark":{"type":"text","radius":112,"dx":16,"dy":12.8,"align":"left","baseline":"alphabetic","font":"Liberation Sans","fontSize":12.5,"fontWeight":"bold","color":"#f29a18"},
"encoding":{"text":{"condition":{"test":"datum.cat==='医療・社会福祉'","value":"%"},"value":""}}}
]
}
